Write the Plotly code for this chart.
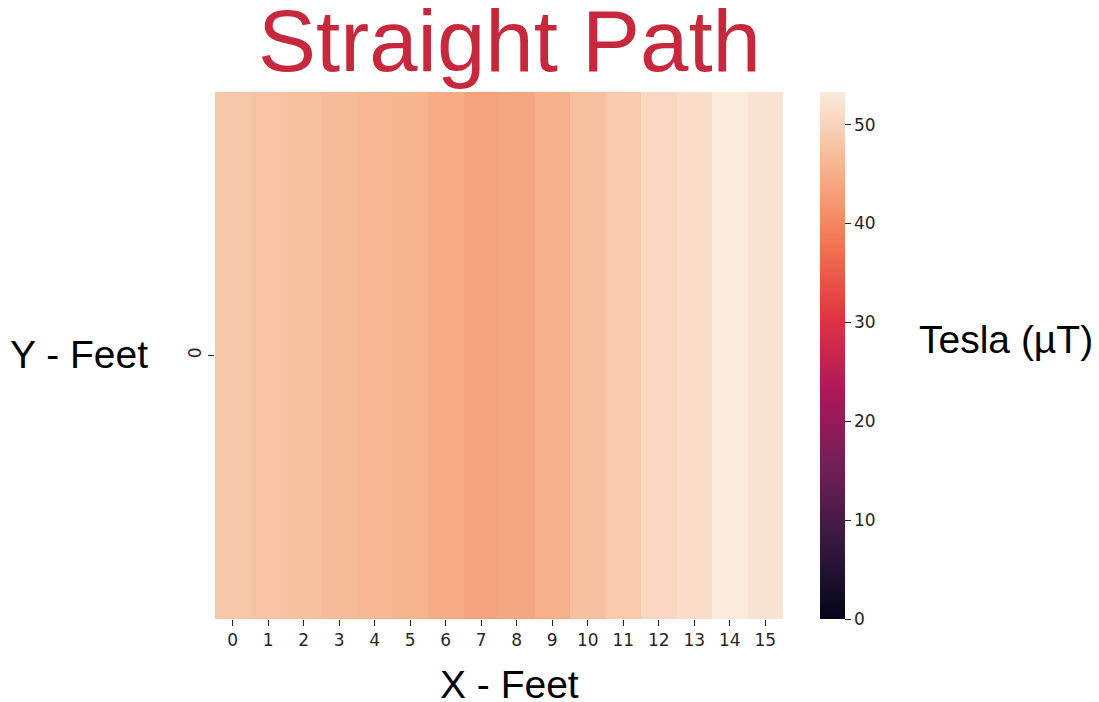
import plotly.graph_objects as go

x_feet = list(range(16))
y_feet = [0]
tesla = [48.3, 47.7, 47.3, 46.6, 46.2, 45.7, 44.7, 43.6, 44.1, 45.2, 47.3, 48.7, 50.5, 51.3, 53.3, 52.3]
cbar_ticks = [0, 10, 20, 30, 40, 50]

rocket = [
    [0.0, "#03051a"],
    [0.143, "#35193e"],
    [0.286, "#701f57"],
    [0.429, "#ad1759"],
    [0.571, "#e13342"],
    [0.714, "#f37651"],
    [0.857, "#f6b48f"],
    [1.0, "#faebdd"],
]

L, R, T, B = 215, 316, 92, 83
W, H = 1099, 702
pw, ph = W - L - R, H - T - B

def px(xp):
    return (xp - L) / pw

def py(yp):
    return (H - B - yp) / ph

fig = go.Figure(go.Heatmap(
    z=[tesla], x=x_feet, y=y_feet,
    colorscale=rocket, zmin=0, zmax=max(tesla),
    xgap=0, ygap=0,
    colorbar=dict(
        x=px(820), xanchor="left", xref="paper", xpad=0, ypad=0,
        y=0.5, yanchor="middle", len=1.0, lenmode="fraction",
        thickness=25, thicknessmode="pixels", outlinewidth=0,
        tickvals=cbar_ticks, ticks="outside", ticklen=6, tickwidth=1.3,
        tickcolor="#262626",
        tickfont=dict(family="DejaVu Sans", size=17, color="#262626"),
    ),
))

fig.update_layout(
    width=W, height=H,
    margin=dict(l=L, r=R, t=T, b=B, pad=0),
    paper_bgcolor="white", plot_bgcolor="white",
    xaxis=dict(range=[-0.5, 15.5], tickvals=x_feet, ticks="outside", ticklen=6,
               tickwidth=1.3, tickcolor="#262626", showgrid=False, zeroline=False,
               showline=False, tickfont=dict(family="DejaVu Sans", size=17, color="#262626")),
    yaxis=dict(range=[0.5, -0.5], tickvals=y_feet, ticks="outside", ticklen=6,
               tickwidth=1.3, tickcolor="#262626", showgrid=False, zeroline=False,
               showline=False, tickangle=-90,
               tickfont=dict(family="DejaVu Sans", size=17, color="#262626")),
    showlegend=False,
)

annots = [
    dict(text="Straight Path", x=px(509), y=py(40), font=dict(family="Liberation Sans", size=87, color="#c8283c"),
         xanchor="center", yanchor="middle"),
    dict(text="X - Feet", x=px(509), y=py(684), font=dict(family="Liberation Sans", size=39, color="black"),
         xanchor="center", yanchor="middle"),
    dict(text="Y - Feet", x=px(150), y=py(354), font=dict(family="Liberation Sans", size=39, color="black"),
         xanchor="right", yanchor="middle"),
    dict(text="Tesla (µT)", x=px(917), y=py(339), font=dict(family="Liberation Sans", size=39, color="black"),
         xanchor="left", yanchor="middle"),
]
for a in annots:
    fig.add_annotation(xref="paper", yref="paper", showarrow=False, **a)

fig.write_html("out.html", config={"displayModeBar": False},
               post_script="document.body.style.margin='0';")
